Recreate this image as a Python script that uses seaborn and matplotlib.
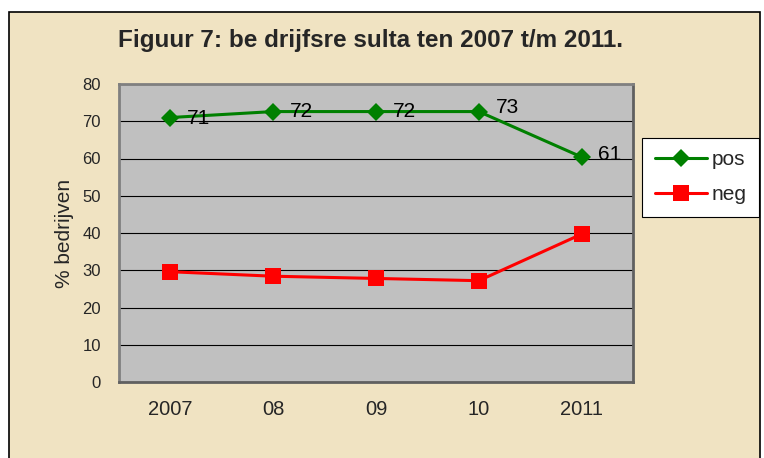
import pandas as pd
import numpy as np
import matplotlib
matplotlib.use("Agg")
import matplotlib.pyplot as plt
import seaborn as sns
from matplotlib.patches import Rectangle

# chart data
jaren = ["2007", "08", "09", "10", "2011"]
pos = [71.0, 72.6, 72.6, 72.6, 60.4]
neg = [29.6, 28.4, 27.8, 27.2, 39.7]
pos_labels = ["71", "72", "72", "73", "61"]

df = pd.DataFrame({
    "jaar": jaren * 2,
    "waarde": pos + neg,
    "reeks": ["pos"] * len(jaren) + ["neg"] * len(jaren),
})

sns.set_style("white")
plt.rcParams["font.family"] = ["Liberation Sans", "DejaVu Sans"]

fig = plt.figure(figsize=(7.64, 4.58), dpi=100)
fig.patch.set_facecolor("white")
# parchment background with black frame
fig.patches.append(Rectangle((9 / 764, -0.05), 751 / 764, 1.05 - 12 / 458,
                             transform=fig.transFigure, facecolor="#F0E3C2",
                             edgecolor="black", linewidth=1.2, zorder=-10))

ax = fig.add_axes([119 / 764, 1 - 382 / 458, 514 / 764, 298 / 458])
ax.set_facecolor("#C0C0C0")

sns.lineplot(data=df, x="jaar", y="waarde", hue="reeks", style="reeks",
             palette={"pos": "#008000", "neg": "#FF0000"},
             markers={"pos": "D", "neg": "s"}, dashes=False,
             markersize=9, linewidth=2.2, markeredgewidth=0,
             sort=False, ax=ax)
# make neg square larger
for line in ax.lines:
    if line.get_color() in ("#FF0000", "#ff0000"):
        line.set_markersize(11)

# small vertical nudges of the value labels, as in the original
label_dy = [-1, 0, 0, 3, 2]
for i, lab in enumerate(pos_labels):
    ax.annotate(lab, (i, pos[i]), xytext=(12, label_dy[i]), textcoords="offset points",
                ha="left", va="center", fontsize=15, color="black")

ax.set_xlim(-0.5, len(jaren) - 0.5)
ax.set_ylim(0, 80)
ax.set_yticks(range(0, 81, 10))
ax.grid(axis="y", color="black", linewidth=0.8)
ax.set_axisbelow(True)
for side, s in ax.spines.items():
    s.set_color("#606060" if side in ("bottom", "right") else "#808080")
    s.set_linewidth(2.0)
ax.tick_params(axis="y", length=5, width=0.8, color="#404040", labelsize=12, pad=8)
ax.tick_params(axis="x", length=0, labelsize=14.5, pad=13)
ax.set_xlabel("")
ax.set_ylabel("% bedrijven", fontsize=15, labelpad=6)

fig.text(370 / 764, 1 - 40 / 458, "Figuur 7: be drijfsre sulta ten 2007 t/m 2011.",
         ha="center", va="center", fontsize=17.5, fontweight="bold")

leg = ax.legend(loc="upper left", bbox_to_anchor=(642 / 764, 1 - 138 / 458),
                bbox_transform=fig.transFigure, fontsize=15, frameon=True,
                fancybox=False, handlelength=2.5, borderpad=0.6,
                labelspacing=0.75, handletextpad=0.25, borderaxespad=0)
leg.get_frame().set_edgecolor("black")
leg.get_frame().set_linewidth(0.8)
leg.get_frame().set_facecolor("white")
leg.get_frame().set_alpha(1)

fig.savefig("out.png", dpi=100, facecolor=fig.get_facecolor())
